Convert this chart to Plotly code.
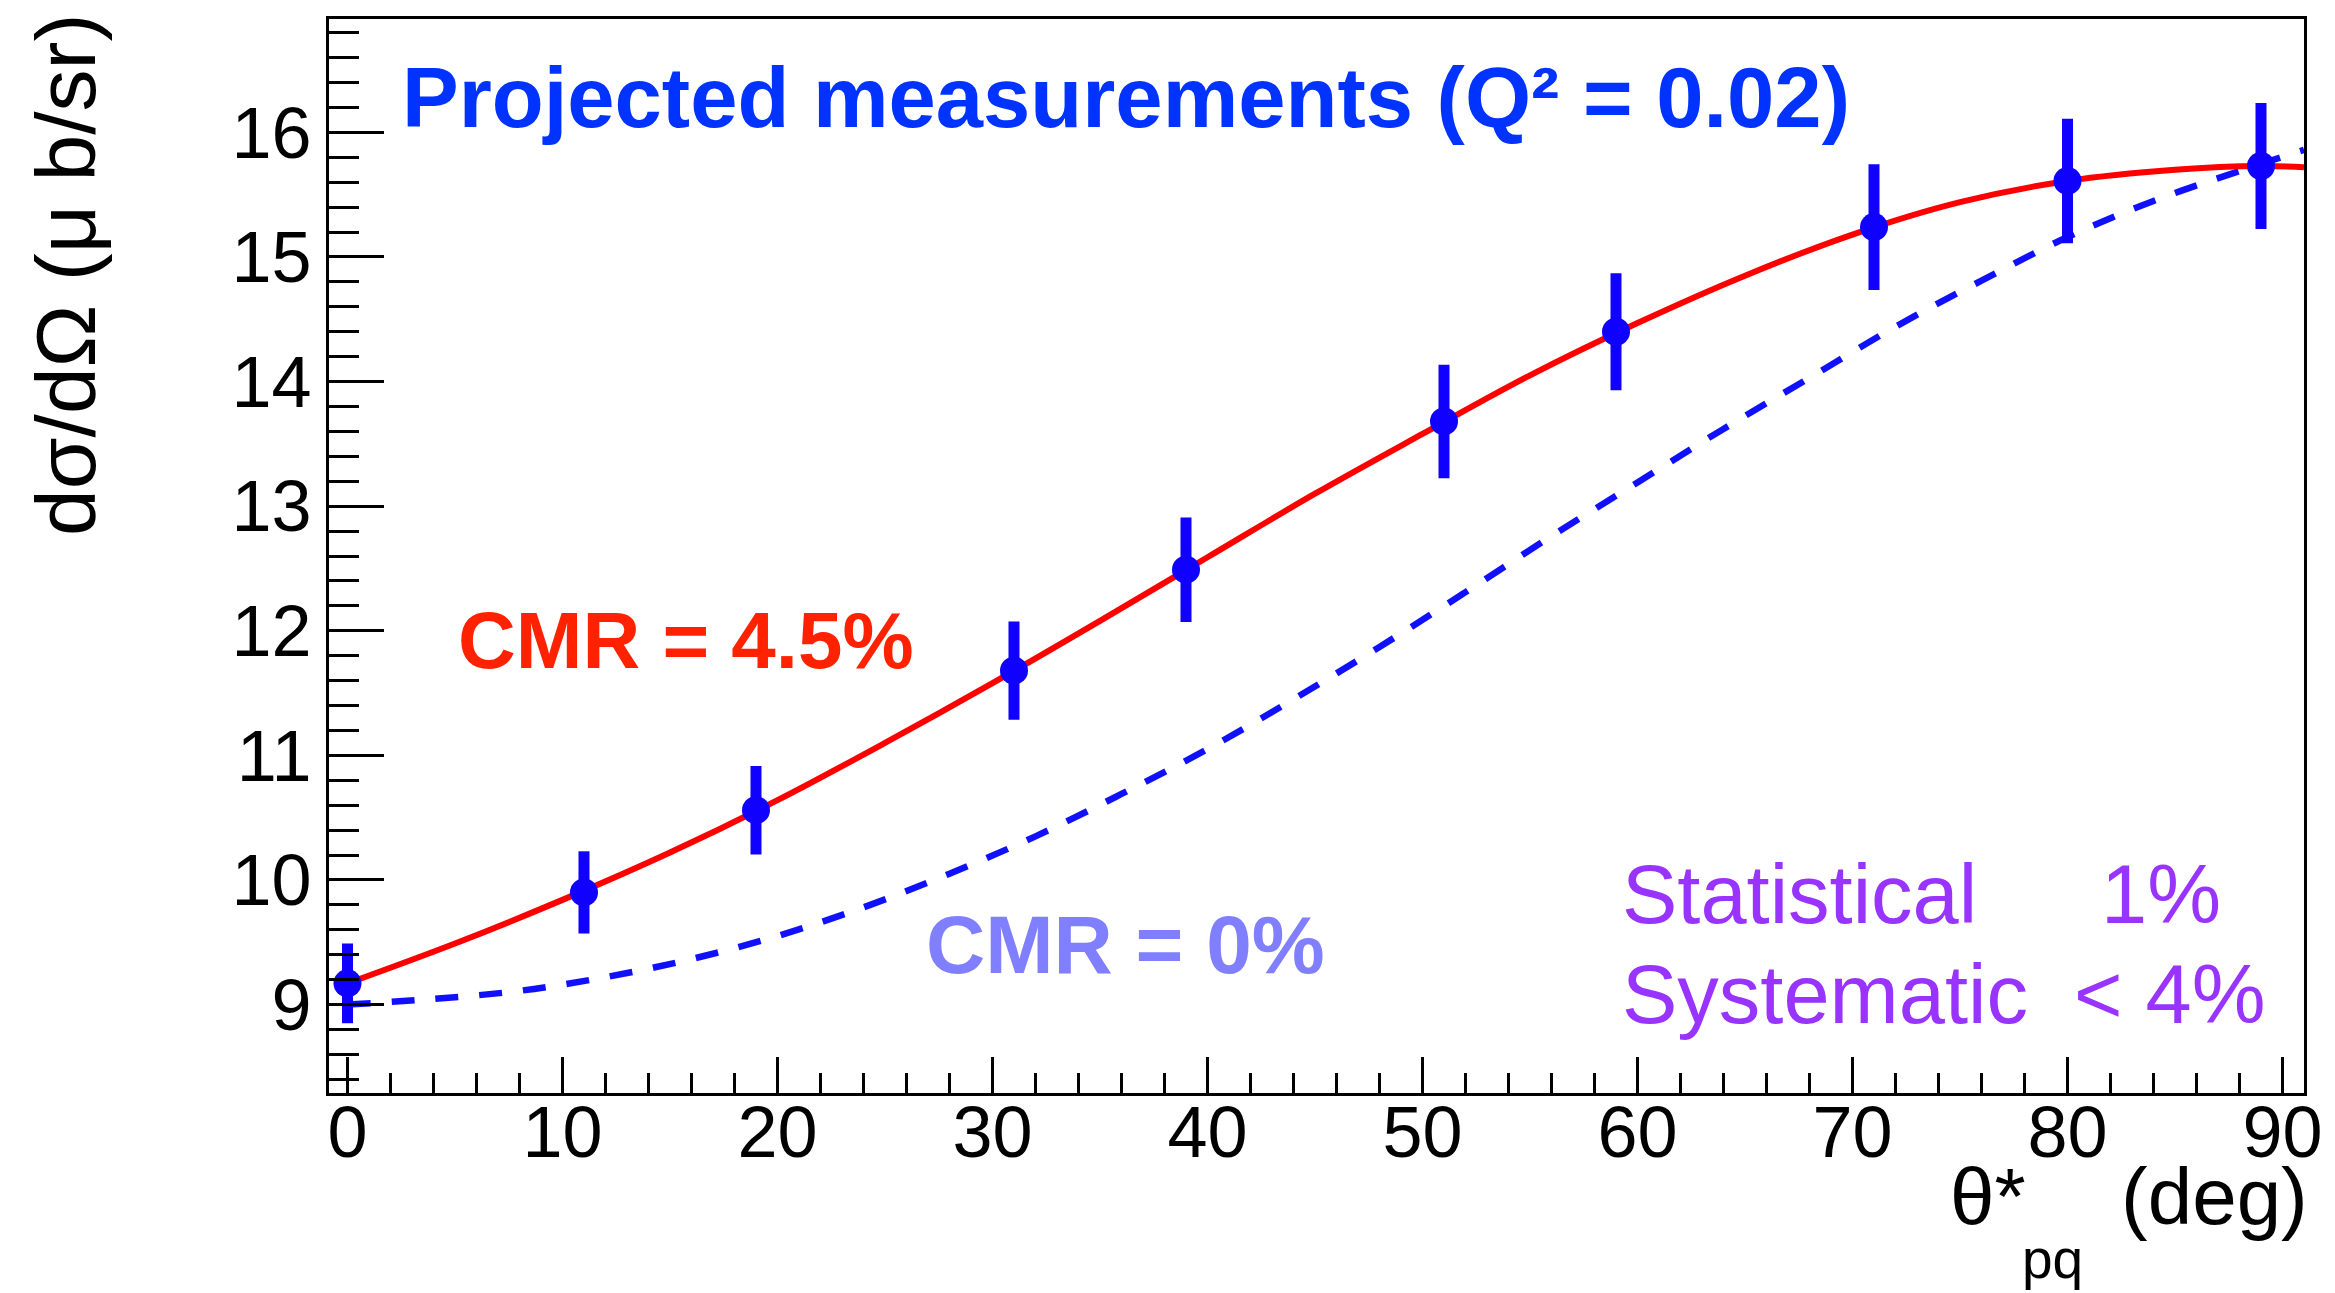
import plotly.graph_objects as go

# Projected cross-section points (theta*_pq in deg, dsigma/dOmega in microbarn/sr)
theta_pts = [0, 11, 19, 31, 39, 51, 59, 71, 80, 89]
xsec_pts = [9.17, 9.90, 10.56, 11.68, 12.49, 13.68, 14.40, 15.24, 15.61, 15.73]
xsec_err = [0.32, 0.33, 0.355, 0.395, 0.42, 0.455, 0.47, 0.505, 0.50, 0.505]

# Model curve with CMR = 4.5%
theta_cmr45 = [0, 5, 10, 15, 20, 25, 30, 35, 40, 45, 50, 55, 60, 65, 70, 75,
               80, 85, 89, 91]
xsec_cmr45 = [9.17, 9.49, 9.84, 10.22, 10.64, 11.10, 11.58, 12.08, 12.59, 13.10,
              13.58, 14.05, 14.47, 14.85, 15.18, 15.44, 15.61, 15.70, 15.73, 15.72]

# Model curve with CMR = 0%
theta_cmr0 = [0, 4, 8, 12, 16, 20, 24, 28, 32, 36, 40, 44, 48, 52, 56, 60, 64,
              68, 72, 76, 80, 84, 88, 91]
xsec_cmr0 = [9.00, 9.045, 9.11, 9.22, 9.365, 9.55, 9.78, 10.05, 10.35, 10.69,
             11.05, 11.45, 11.87, 12.31, 12.76, 13.19, 13.62, 14.03, 14.44,
             14.81, 15.16, 15.45, 15.69, 15.86]

x_ticks = [0, 10, 20, 30, 40, 50, 60, 70, 80, 90]
y_ticks = [9, 10, 11, 12, 13, 14, 15, 16]

W, H = 2335, 1293
L, R, T, B = 329, 2304, 19, 1093
FONT = "Liberation Sans, Arial, Helvetica, sans-serif"


def fx(px):
    return (px - L) / (R - L)


def fy(py):
    return (B - py) / (B - T)


fig = go.Figure()

fig.add_trace(go.Scatter(
    x=theta_cmr0, y=xsec_cmr0, mode="lines",
    line=dict(color="#1010ff", width=6.5, dash="23px,21px", shape="spline", smoothing=1.0),
    hoverinfo="skip", showlegend=False))

fig.add_trace(go.Scatter(
    x=theta_cmr45, y=xsec_cmr45, mode="lines",
    line=dict(color="#ff0000", width=6, shape="spline", smoothing=1.0),
    hoverinfo="skip", showlegend=False))

fig.add_trace(go.Scatter(
    x=theta_pts, y=xsec_pts, mode="markers",
    marker=dict(size=28, color="#1000ff"),
    error_y=dict(type="data", array=xsec_err, color="#1000ff", thickness=11, width=0),
    showlegend=False))

axis_common = dict(
    showgrid=False, zeroline=False, showline=True, linecolor="black", linewidth=3,
    mirror=True, ticks="inside", tickcolor="black", tickwidth=3,
    tickfont=dict(family=FONT, size=72, color="black"),
)

fig.update_xaxes(
    range=[-0.86, 91.0], tickvals=x_ticks, ticktext=[str(v) for v in x_ticks],
    ticklen=36, ticklabelstandoff=-25,
    minor=dict(dtick=2, tick0=0, ticklen=20, tickwidth=3,
               tickcolor="black", ticks="inside"),
    **axis_common)
fig.update_yaxes(
    range=[8.29, 16.91], tickvals=y_ticks, ticktext=[str(v) for v in y_ticks],
    ticklen=55,
    minor=dict(dtick=0.2, tick0=0, ticklen=30, tickwidth=3,
               tickcolor="black", ticks="inside"),
    **axis_common)


def label(text, px, py, size, color, bold=False, xanchor="left", angle=0):
    fig.add_annotation(
        text=f"<b>{text}</b>" if bold else text,
        xref="paper", yref="paper", x=fx(px), y=fy(py),
        xanchor=xanchor, yanchor="middle", showarrow=False, textangle=angle,
        font=dict(family=FONT, size=size, color=color))


label("Projected measurements (Q² = 0.02)", 400, 98, 85, "#0033ff", bold=True)
label("CMR = 4.5%", 456, 640, 80, "#ff2200", bold=True)
label("CMR = 0%", 924, 944, 82, "#7f7fff", bold=True)
label("Statistical", 1620, 894, 83, "#9933ff")
label("1%", 2099, 894, 83, "#9933ff")
label("Systematic  &lt; 4%", 1620, 994, 83, "#9933ff")

# axis titles
label("dσ/dΩ (μ b/sr)", 66, 275, 84, "black", xanchor="center", angle=-90)
label("θ*", 1948, 1196, 80, "black")
label("pq", 2020, 1259, 55, "black")
label("(deg)", 2310, 1196, 80, "black", xanchor="right")

fig.update_layout(
    width=W, height=H, autosize=False,
    margin=dict(l=L, r=W - R, t=T, b=H - B, pad=0),
    plot_bgcolor="white", paper_bgcolor="white",
    font=dict(family=FONT, color="black"),
)

fig.write_html("out.html")
